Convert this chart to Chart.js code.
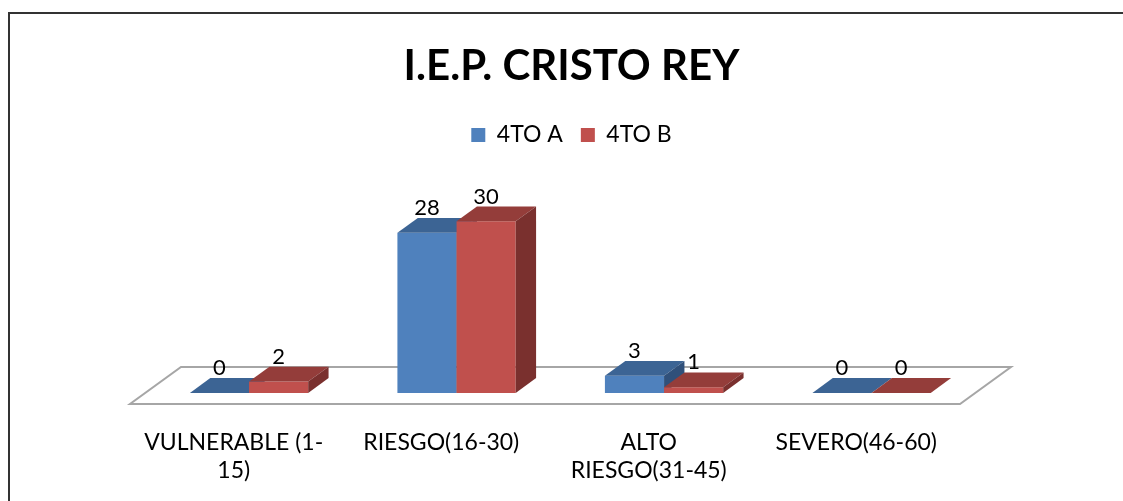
<!DOCTYPE html>
<html>
<head>
<meta charset="utf-8">
<script src="https://cdn.jsdelivr.net/npm/chart.js@4"></script>
<style>
  html, body { margin: 0; padding: 0; background: #fff; overflow: hidden; }
  #wrap { position: relative; width: 1123px; height: 501px; }
  #frame { position: absolute; left: 8px; top: 12px; width: 1200px; height: 600px; border-left: 2px solid #333; border-top: 2px solid #333; }
  canvas { position: absolute; left: 0; top: 0; }
</style>
</head>
<body>
<div id="wrap">
  <div id="frame"></div>
  <canvas id="chart" width="1123" height="501"></canvas>
</div>
<script>
// datos
const categorias = [['VULNERABLE (1-', '15)'], 'RIESGO(16-30)', ['ALTO', 'RIESGO(31-45)'], 'SEVERO(46-60)'];
const serie4toA = [0, 28, 3, 0];
const serie4toB = [2, 30, 1, 0];
const nombres = ['4TO A', '4TO B'];

const FONT = 'Lato, "Open Sans", sans-serif';
const DEPTH = { x: 51, y: -37 };   // profundidad del piso
const FRONT = 0.3, THICK = 0.4;    // fraccion de la profundidad

// piso + barras 3D + etiquetas (posiciones tomadas de los elementos de Chart.js)
const bar3d = {
  id: 'bar3d',
  beforeDatasetsDraw(chart) {
    const { ctx, chartArea: a } = chart;
    ctx.save();
    ctx.beginPath();
    ctx.moveTo(a.left, a.bottom);
    ctx.lineTo(a.right, a.bottom);
    ctx.lineTo(a.right + DEPTH.x, a.bottom + DEPTH.y);
    ctx.lineTo(a.left + DEPTH.x, a.bottom + DEPTH.y);
    ctx.closePath();
    ctx.fillStyle = '#fff';
    ctx.fill();
    ctx.strokeStyle = '#a6a6a6';
    ctx.lineWidth = 2;
    ctx.stroke();
    ctx.restore();
  },
  // las caras se dibujan abajo, en orden de profundidad
  beforeDatasetDraw() { return false; },
  afterDatasetsDraw(chart) {
    const ctx = chart.ctx;
    const ox = DEPTH.x * FRONT, oy = DEPTH.y * FRONT;
    const dx = DEPTH.x * THICK, dy = DEPTH.y * THICK;
    const datasets = chart.data.datasets;
    const poly = (pts, color) => {
      ctx.beginPath();
      pts.forEach(([px, py], k) => k ? ctx.lineTo(px, py) : ctx.moveTo(px, py));
      ctx.closePath();
      ctx.fillStyle = color;
      ctx.fill();
    };
    ctx.save();
    ctx.translate(ox, oy);
    chart.data.labels.forEach((_, j) => {
      datasets.forEach((ds, i) => {
        const bar = chart.getDatasetMeta(i).data[j];
        const { x, y, width, base } = bar.getProps(['x', 'y', 'width', 'base'], true);
        const l = x - width / 2, r = x + width / 2;
        if (base - y > 0) poly([[l, y], [r, y], [r, base], [l, base]], ds.backgroundColor);
        poly([[l, y], [r, y], [r + dx, y + dy], [l + dx, y + dy]], ds.topColor);
        poly([[r, y], [r + dx, y + dy], [r + dx, base + dy], [r, base]], ds.sideColor);
      });
    });
    ctx.font = '22px ' + FONT;
    ctx.fillStyle = '#000';
    ctx.textAlign = 'center';
    ctx.textBaseline = 'alphabetic';
    datasets.forEach((ds, i) => {
      chart.getDatasetMeta(i).data.forEach((bar, j) => {
        ctx.fillText(String(ds.data[j]), bar.x, bar.y + dy - 3);
      });
    });
    ctx.restore();
  }
};

new Chart(document.getElementById('chart'), {
  type: 'bar',
  data: {
    labels: categorias,
    datasets: [
      { label: nombres[0], data: serie4toA, backgroundColor: '#4f81bd', topColor: '#3c6494', sideColor: '#30507a' },
      { label: nombres[1], data: serie4toB, backgroundColor: '#c0504d', topColor: '#943d3a', sideColor: '#7a302e' }
    ]
  },
  options: {
    responsive: false,
    animation: false,
    categoryPercentage: 0.57,
    barPercentage: 1.0,
    layout: { padding: { left: 20, right: 0, top: 0, bottom: 0 } },
    plugins: {
      title: {
        display: true,
        text: 'I.E.P. CRISTO REY',
        color: '#000',
        font: { family: FONT, size: 42, weight: 'bold' },
        padding: { top: 41, bottom: 14 }
      },
      legend: {
        position: 'top',
        labels: { color: '#000', boxWidth: 14, boxHeight: 14, padding: 18, font: { family: FONT, size: 23 } }
      },
      tooltip: { enabled: false }
    },
    scales: {
      x: {
        grid: { display: false, drawTicks: false },
        border: { display: false },
        ticks: { color: '#000', padding: 25, maxRotation: 0, autoSkip: false, font: { family: FONT, size: 23 } },
        afterFit(scale) { scale.height = 97; }
      },
      y: {
        min: 0, max: 43.3,
        grid: { display: false, drawTicks: false },
        border: { display: false },
        ticks: { display: false },
        afterFit(scale) { scale.width = 110; }
      },
      y2: {
        position: 'right',
        grid: { display: false, drawTicks: false },
        border: { display: false },
        ticks: { display: false },
        afterFit(scale) { scale.width = 163; }
      }
    }
  },
  plugins: [bar3d]
});
</script>
</body>
</html>
